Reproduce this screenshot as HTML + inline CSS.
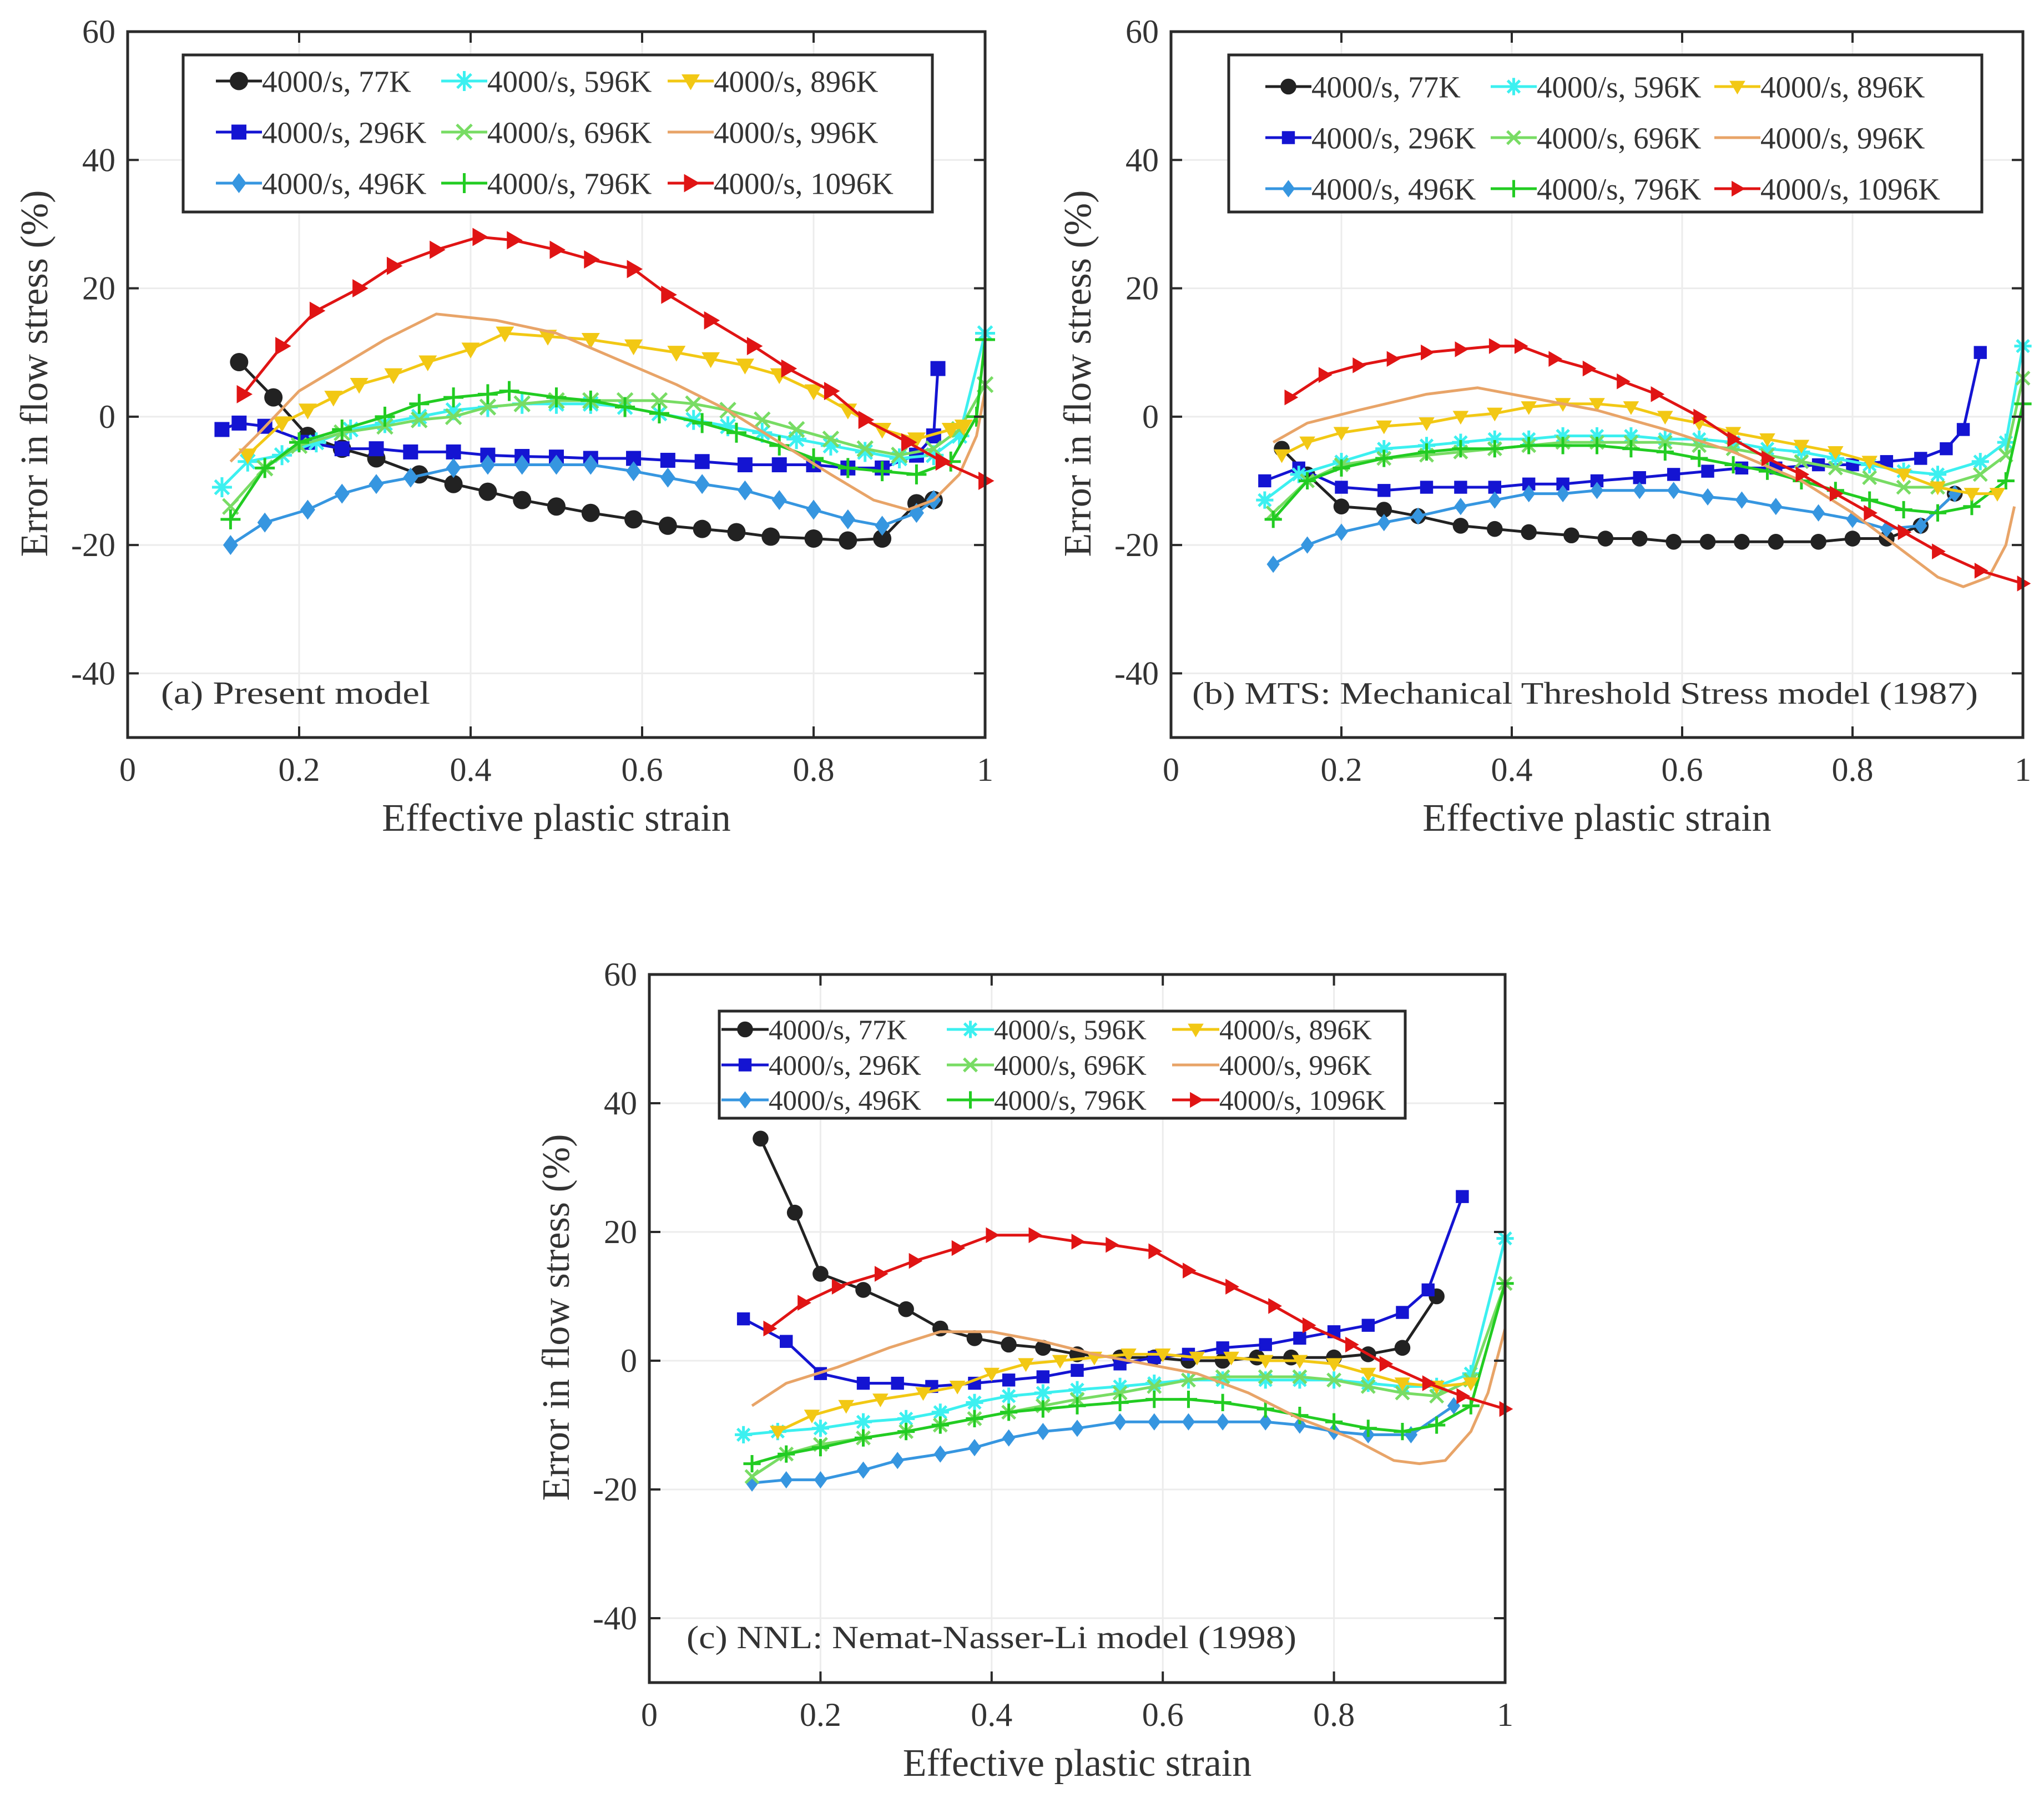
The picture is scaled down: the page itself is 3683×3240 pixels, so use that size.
<!DOCTYPE html>
<html><head><meta charset="utf-8">
<style>
html,body{margin:0;padding:0;background:#fff;}
svg{display:block;}
text{font-family:"Liberation Serif",serif;fill:#333;}
</style></head>
<body>
<svg id="fig" width="3683" height="3240" viewBox="0 0 3683 3240" xmlns="http://www.w3.org/2000/svg">
<rect width="3683" height="3240" fill="#fff"/>
</svg>
<script>
// ---- shared tick data ----
const xTicks = [0, 0.2, 0.4, 0.6, 0.8, 1];
const xTickLabels = ["0", "0.2", "0.4", "0.6", "0.8", "1"];
const yTicks = [-40, -20, 0, 20, 40, 60];
const yTickLabels = ["-40", "-20", "0", "20", "40", "60"];
const seriesNames = ["4000/s, 77K","4000/s, 296K","4000/s, 496K","4000/s, 596K","4000/s, 696K","4000/s, 796K","4000/s, 896K","4000/s, 996K","4000/s, 1096K"];

// ---- panel (a) data ----
const a77 = [[0.13,8.5],[0.17,3],[0.21,-3],[0.25,-5],[0.29,-6.5],[0.34,-9],[0.38,-10.5],[0.42,-11.7],[0.46,-13],[0.5,-14],[0.54,-15],[0.59,-16],[0.63,-17],[0.67,-17.5],[0.71,-18],[0.75,-18.7],[0.8,-19],[0.84,-19.3],[0.88,-19],[0.92,-13.5],[0.94,-13]];
const a296 = [[0.11,-2],[0.13,-1],[0.16,-1.5],[0.21,-4],[0.25,-5],[0.29,-5],[0.33,-5.5],[0.38,-5.5],[0.42,-6],[0.46,-6.2],[0.5,-6.3],[0.54,-6.5],[0.59,-6.5],[0.63,-6.8],[0.67,-7],[0.72,-7.5],[0.76,-7.5],[0.8,-7.5],[0.84,-8],[0.88,-8],[0.92,-6],[0.94,-3],[0.945,7.5]];
const a496 = [[0.12,-20],[0.16,-16.5],[0.21,-14.5],[0.25,-12],[0.29,-10.5],[0.33,-9.5],[0.38,-8],[0.42,-7.5],[0.46,-7.5],[0.5,-7.5],[0.54,-7.5],[0.59,-8.5],[0.63,-9.5],[0.67,-10.5],[0.72,-11.5],[0.76,-13],[0.8,-14.5],[0.84,-16],[0.88,-17],[0.92,-15],[0.94,-13]];
const a596 = [[0.11,-11],[0.14,-7],[0.18,-6],[0.22,-4],[0.26,-2],[0.3,-1],[0.34,0],[0.38,1],[0.42,1.5],[0.46,2],[0.5,2],[0.54,2],[0.58,1.5],[0.62,0.5],[0.66,-0.5],[0.7,-1.5],[0.74,-2.5],[0.78,-3.5],[0.82,-4.5],[0.86,-5.5],[0.9,-6.5],[0.94,-6],[0.97,-3],[1.0,13]];
const a696 = [[0.12,-14],[0.16,-8],[0.2,-4.5],[0.25,-2.5],[0.3,-1.5],[0.34,-0.5],[0.38,0],[0.42,1.5],[0.46,2],[0.5,2.5],[0.54,2.5],[0.58,2.5],[0.62,2.5],[0.66,2],[0.7,1],[0.74,-0.5],[0.78,-2],[0.82,-3.5],[0.86,-5],[0.9,-6],[0.94,-5],[0.97,-2],[1.0,5]];
const a796 = [[0.12,-16],[0.16,-8],[0.2,-4],[0.25,-2],[0.3,0],[0.34,2],[0.38,3],[0.42,3.5],[0.445,4],[0.5,3],[0.54,2.5],[0.58,1.5],[0.62,0.5],[0.67,-1],[0.71,-2.5],[0.76,-4.5],[0.8,-6.5],[0.84,-8],[0.88,-8.5],[0.92,-9],[0.96,-7],[0.99,0],[1.0,12]];
const a896 = [[0.14,-6],[0.18,-1],[0.21,1],[0.24,3],[0.27,5],[0.31,6.5],[0.35,8.5],[0.4,10.5],[0.44,13],[0.49,12.5],[0.54,12],[0.59,11],[0.64,10],[0.68,9],[0.72,8],[0.76,6.5],[0.8,4],[0.84,1],[0.88,-2],[0.92,-3.5],[0.96,-2],[0.975,-1.5]];
const a996 = [[0.12,-7],[0.15,-3],[0.2,4],[0.25,8],[0.3,12],[0.36,16],[0.43,15],[0.5,13],[0.57,9],[0.64,5],[0.7,1],[0.76,-4],[0.82,-9],[0.87,-13],[0.91,-14.5],[0.94,-13],[0.97,-9],[0.99,-3],[1.0,4]];
const a1096 = [[0.135,3.5],[0.18,11],[0.22,16.5],[0.27,20],[0.31,23.5],[0.36,26],[0.41,28],[0.45,27.5],[0.5,26],[0.54,24.5],[0.59,23],[0.63,19],[0.68,15],[0.73,11],[0.77,7.5],[0.82,4],[0.86,-0.5],[0.91,-4],[0.95,-7],[1.0,-10]];

// ---- panel (b) data ----
const b77 = [[0.13,-5],[0.16,-9],[0.2,-14],[0.25,-14.5],[0.29,-15.5],[0.34,-17],[0.38,-17.5],[0.42,-18],[0.47,-18.5],[0.51,-19],[0.55,-19],[0.59,-19.5],[0.63,-19.5],[0.67,-19.5],[0.71,-19.5],[0.76,-19.5],[0.8,-19],[0.84,-19],[0.88,-17],[0.92,-12]];
const b296 = [[0.11,-10],[0.15,-8],[0.2,-11],[0.25,-11.5],[0.3,-11],[0.34,-11],[0.38,-11],[0.42,-10.5],[0.46,-10.5],[0.5,-10],[0.55,-9.5],[0.59,-9],[0.63,-8.5],[0.67,-8],[0.71,-8],[0.76,-7.5],[0.8,-7.5],[0.84,-7],[0.88,-6.5],[0.91,-5],[0.93,-2],[0.95,10]];
const b496 = [[0.12,-23],[0.16,-20],[0.2,-18],[0.25,-16.5],[0.29,-15.5],[0.34,-14],[0.38,-13],[0.42,-12],[0.46,-12],[0.5,-11.5],[0.55,-11.5],[0.59,-11.5],[0.63,-12.5],[0.67,-13],[0.71,-14],[0.76,-15],[0.8,-16],[0.84,-17.5],[0.88,-17],[0.92,-12]];
const b596 = [[0.11,-13],[0.15,-9],[0.2,-7],[0.25,-5],[0.3,-4.5],[0.34,-4],[0.38,-3.5],[0.42,-3.5],[0.46,-3],[0.5,-3],[0.54,-3],[0.58,-3.5],[0.62,-3.5],[0.66,-4],[0.7,-5],[0.74,-5.5],[0.78,-6.5],[0.82,-7.5],[0.86,-8.5],[0.9,-9],[0.95,-7],[0.98,-4],[1.0,11]];
const b696 = [[0.12,-15],[0.16,-10],[0.2,-7.5],[0.25,-6.5],[0.3,-6],[0.34,-5.5],[0.38,-5],[0.42,-4.5],[0.46,-4],[0.5,-4],[0.54,-4],[0.58,-4],[0.62,-4.5],[0.66,-5],[0.7,-6],[0.74,-7],[0.78,-8],[0.82,-9.5],[0.86,-11],[0.9,-11],[0.95,-9],[0.98,-6],[1.0,6]];
const b796 = [[0.12,-16],[0.16,-10],[0.2,-8],[0.25,-6.5],[0.3,-5.5],[0.34,-5],[0.38,-5],[0.42,-4.5],[0.46,-4.5],[0.5,-4.5],[0.54,-5],[0.58,-5.5],[0.62,-6.5],[0.66,-7.5],[0.7,-8.5],[0.74,-10],[0.78,-11.5],[0.82,-13],[0.86,-14.5],[0.9,-15],[0.94,-14],[0.98,-10],[1.0,2]];
const b896 = [[0.13,-6],[0.16,-4],[0.2,-2.5],[0.25,-1.5],[0.3,-1],[0.34,0],[0.38,0.5],[0.42,1.5],[0.46,2],[0.5,2],[0.54,1.5],[0.58,0],[0.62,-1],[0.66,-2.5],[0.7,-3.5],[0.74,-4.5],[0.78,-5.5],[0.82,-7],[0.86,-9],[0.9,-11],[0.94,-12],[0.97,-12]];
const b996 = [[0.12,-4],[0.16,-1],[0.22,1],[0.3,3.5],[0.36,4.5],[0.42,3],[0.5,1],[0.58,-2],[0.66,-5.5],[0.74,-10],[0.8,-15],[0.86,-21],[0.9,-25],[0.93,-26.5],[0.96,-25],[0.98,-20],[0.99,-14]];
const b1096 = [[0.14,3],[0.18,6.5],[0.22,8],[0.26,9],[0.3,10],[0.34,10.5],[0.38,11],[0.41,11],[0.45,9],[0.49,7.5],[0.53,5.5],[0.57,3.5],[0.62,0],[0.66,-3.5],[0.7,-6.5],[0.74,-9],[0.78,-12],[0.82,-15],[0.86,-18],[0.9,-21],[0.95,-24],[1.0,-26]];

// ---- panel (c) data ----
const c77 = [[0.13,34.5],[0.17,23],[0.2,13.5],[0.25,11],[0.3,8],[0.34,5],[0.38,3.5],[0.42,2.5],[0.46,2],[0.5,1],[0.55,0.5],[0.59,0.5],[0.63,0],[0.67,0],[0.71,0.5],[0.75,0.5],[0.8,0.5],[0.84,1],[0.88,2],[0.92,10]];
const c296 = [[0.11,6.5],[0.16,3],[0.2,-2],[0.25,-3.5],[0.29,-3.5],[0.33,-4],[0.38,-3.5],[0.42,-3],[0.46,-2.5],[0.5,-1.5],[0.55,-0.5],[0.59,0.5],[0.63,1],[0.67,2],[0.72,2.5],[0.76,3.5],[0.8,4.5],[0.84,5.5],[0.88,7.5],[0.91,11],[0.95,25.5]];
const c496 = [[0.12,-19],[0.16,-18.5],[0.2,-18.5],[0.25,-17],[0.29,-15.5],[0.34,-14.5],[0.38,-13.5],[0.42,-12],[0.46,-11],[0.5,-10.5],[0.55,-9.5],[0.59,-9.5],[0.63,-9.5],[0.67,-9.5],[0.72,-9.5],[0.76,-10],[0.8,-11],[0.84,-11.5],[0.89,-11.5],[0.94,-7]];
const c596 = [[0.11,-11.5],[0.15,-11],[0.2,-10.5],[0.25,-9.5],[0.3,-9],[0.34,-8],[0.38,-6.5],[0.42,-5.5],[0.46,-5],[0.5,-4.5],[0.55,-4],[0.59,-3.5],[0.63,-3],[0.67,-3],[0.72,-3],[0.76,-3],[0.8,-3],[0.84,-3.5],[0.88,-4],[0.92,-4],[0.96,-2],[1.0,19]];
const c696 = [[0.12,-18],[0.16,-14.5],[0.2,-13],[0.25,-12],[0.3,-11],[0.34,-10],[0.38,-9],[0.42,-8],[0.46,-7],[0.5,-6],[0.55,-5],[0.59,-4],[0.63,-3],[0.67,-2.5],[0.72,-2.5],[0.76,-2.5],[0.8,-3],[0.84,-4],[0.88,-5],[0.92,-5.5],[0.96,-3],[1.0,12]];
const c796 = [[0.12,-16],[0.16,-14.5],[0.2,-13.5],[0.25,-12],[0.3,-11],[0.34,-10],[0.38,-9],[0.42,-8],[0.46,-7.5],[0.5,-7],[0.55,-6.5],[0.59,-6],[0.63,-6],[0.67,-6.5],[0.72,-7.5],[0.76,-8.5],[0.8,-9.5],[0.84,-10.5],[0.88,-11],[0.92,-10],[0.96,-7],[1.0,12]];
const c896 = [[0.15,-11],[0.19,-8.5],[0.23,-7],[0.27,-6],[0.32,-5],[0.36,-4],[0.4,-2],[0.44,-0.5],[0.48,0],[0.52,0.5],[0.56,1],[0.6,1],[0.64,0.5],[0.68,0.5],[0.72,0],[0.76,0],[0.8,-0.5],[0.84,-2],[0.88,-3.5],[0.92,-4],[0.96,-3.5]];
const c996 = [[0.12,-7],[0.16,-3.5],[0.22,-1],[0.28,2],[0.34,4.5],[0.4,4.5],[0.46,3],[0.52,1],[0.58,-0.5],[0.64,-2],[0.7,-5],[0.76,-9],[0.82,-12],[0.87,-15.5],[0.9,-16],[0.93,-15.5],[0.96,-11],[0.98,-5],[1.0,5]];
const c1096 = [[0.14,5],[0.18,9],[0.22,11.5],[0.27,13.5],[0.31,15.5],[0.36,17.5],[0.4,19.5],[0.45,19.5],[0.5,18.5],[0.54,18],[0.59,17],[0.63,14],[0.68,11.5],[0.73,8.5],[0.77,5.5],[0.82,2.5],[0.86,-0.5],[0.91,-3.5],[0.95,-5.5],[1.0,-7.5]];

const NS = "http://www.w3.org/2000/svg";
const svg = document.getElementById('fig');
const styles = [
  {c:"#222222", m:"circle"}, {c:"#1414d2", m:"square"}, {c:"#3696e0", m:"diamond"},
  {c:"#3cf0f0", m:"star"}, {c:"#78dc64", m:"x"}, {c:"#22cc22", m:"plus"},
  {c:"#f2c814", m:"tri"}, {c:"#e8a468", m:"none"}, {c:"#e01414", m:"right"}
];
const keys = ["t77","t296","t496","t596","t696","t796","t896","t996","t1096"];

function mk(tag, attrs, parent){
  const e = document.createElementNS(NS, tag);
  for (const k in attrs) e.setAttribute(k, attrs[k]);
  parent.appendChild(e);
  return e;
}
function marker(g, type, x, y, col, s){
  let e;
  if (type === "circle") e = mk("circle",{cx:x,cy:y,r:s*0.55,fill:col},g);
  else if (type === "square") e = mk("rect",{x:x-s*0.45,y:y-s*0.45,width:s*0.9,height:s*0.9,fill:col},g);
  else if (type === "diamond") e = mk("polygon",{points:`${x},${y-s*0.6} ${x+s*0.45},${y} ${x},${y+s*0.6} ${x-s*0.45},${y}`,fill:col},g);
  else if (type === "tri") e = mk("polygon",{points:`${x-s*0.55},${y-s*0.4} ${x+s*0.55},${y-s*0.4} ${x},${y+s*0.55}`,fill:col},g);
  else if (type === "right") e = mk("polygon",{points:`${x-s*0.4},${y-s*0.55} ${x+s*0.55},${y} ${x-s*0.4},${y+s*0.55}`,fill:col},g);
  else if (type === "plus") e = mk("path",{d:`M${x-s*0.6},${y}H${x+s*0.6}M${x},${y-s*0.6}V${y+s*0.6}`,stroke:col,"stroke-width":5},g);
  else if (type === "x") e = mk("path",{d:`M${x-s*0.45},${y-s*0.45}L${x+s*0.45},${y+s*0.45}M${x-s*0.45},${y+s*0.45}L${x+s*0.45},${y-s*0.45}`,stroke:col,"stroke-width":5},g);
  else if (type === "star") e = mk("path",{d:`M${x-s*0.6},${y}H${x+s*0.6}M${x},${y-s*0.6}V${y+s*0.6}M${x-s*0.42},${y-s*0.42}L${x+s*0.42},${y+s*0.42}M${x-s*0.42},${y+s*0.42}L${x+s*0.42},${y-s*0.42}`,stroke:col,"stroke-width":5},g);
  if (e) {
    
    
  }
}

function panel(p){
  const g = mk("g",{},svg);
  
  
  const X = v => p.L + (v - 0) / (1 - 0) * (p.R - p.L);
  const Y = v => p.B - (v - (-50)) / (60 - (-50)) * (p.B - p.T);
  xTicks.forEach(t => {
    const gl = mk("line",{x1:X(t),x2:X(t),y1:p.T,y2:p.B,stroke:"#ececec","stroke-width":3},g);
    
    
  });
  yTicks.forEach(t => {
    const gl = mk("line",{x1:p.L,x2:p.R,y1:Y(t),y2:Y(t),stroke:"#ececec","stroke-width":3},g);
    
    
  });
  const sg = mk("g",{},g);
  
  
  p.series.forEach((d, i) => {
    const st = styles[i];
    const ln = mk("polyline",{points:d.map(q => X(q[0]) + "," + Y(q[1])).join(" "),fill:"none",stroke:st.c,"stroke-width":5,"stroke-linejoin":"round"},sg);
    
    
    if (st.m !== "none") d.forEach(q => marker(sg, st.m, X(q[0]), Y(q[1]), st.c, p.ms));
  });
  const box = mk("rect",{x:p.L,y:p.T,width:p.R-p.L,height:p.B-p.T,fill:"none",stroke:"#2a2a2a","stroke-width":5},g);
  
  
  xTicks.forEach((t, i) => {
    const tk = mk("path",{d:`M${X(t)},${p.B}v-20M${X(t)},${p.T}v20`,stroke:"#2a2a2a","stroke-width":4},g);
    
    
    const tl = mk("text",{x:X(t),y:p.B+78,"font-size":60,"text-anchor":"middle"},g);
    tl.textContent = xTickLabels[i];
    
    
  });
  yTicks.forEach((t, i) => {
    const tk = mk("path",{d:`M${p.L},${Y(t)}h20M${p.R},${Y(t)}h-20`,stroke:"#2a2a2a","stroke-width":4},g);
    
    
    const tl = mk("text",{x:p.L-22,y:Y(t)+20,"font-size":60,"text-anchor":"end"},g);
    tl.textContent = yTickLabels[i];
    
    
  });
  const xt = mk("text",{x:(p.L+p.R)/2,y:p.B+168,"font-size":70,"text-anchor":"middle"},g);
  xt.textContent = "Effective plastic strain";
  
  
  const yx = p.L - 145, yy = (p.T + p.B) / 2 - 20;
  const yt = mk("text",{x:yx,y:yy,"font-size":70,"text-anchor":"middle",transform:`rotate(-90 ${yx} ${yy})`},g);
  yt.textContent = "Error in flow stress (%)";
  
  
  const pl = mk("text",{x:p.lab[0],y:p.lab[1],"font-size":p.labFs,"textLength":p.lab[2],"lengthAdjust":"spacingAndGlyphs"},g);
  pl.textContent = p.label;
  
  
  const lg = mk("g",{},g);
  
  
  const lb = mk("rect",{x:p.leg.x,y:p.leg.y,width:p.leg.w,height:p.leg.h,fill:"#fff",stroke:"#2a2a2a","stroke-width":5},lg);
  
  
  for (let i = 0; i < 9; i++) {
    const col = Math.floor(i / 3), row = i % 3;
    const lx = p.leg.cols[col], ly = p.leg.rows[row];
    const st = styles[i];
    const eg = mk("g",{},lg);
    
    
    mk("line",{x1:lx,x2:lx+p.leg.sw,y1:ly,y2:ly,stroke:st.c,"stroke-width":5},eg);
    if (st.m !== "none") marker(eg, st.m, lx + p.leg.sw/2, ly, st.c, p.ms);
    const tx = mk("text",{x:lx+p.leg.sw,y:ly+p.leg.fs*0.35,"font-size":p.leg.fs},eg);
    tx.textContent = seriesNames[i];
  }
}

panel({name:"panel-a", L:230, R:1775, T:57, B:1329, ms:30,
  series:[a77,a296,a496,a596,a696,a796,a896,a996,a1096],
  label:"(a) Present model", labFs:58, lab:[290,1268,485],
  leg:{x:330,y:99,w:1350,h:283,cols:[389,795,1203],rows:[146,238,330],sw:83,fs:55}});
panel({name:"panel-b", L:2110, R:3645, T:57, B:1329, ms:26,
  series:[b77,b296,b496,b596,b696,b796,b896,b996,b1096],
  label:"(b) MTS: Mechanical Threshold Stress model (1987)", labFs:56, lab:[2148,1268,1416],
  leg:{x:2214,y:99,w:1357,h:283,cols:[2280,2686,3089],rows:[156,248,340],sw:83,fs:55}});
panel({name:"panel-c", L:1170, R:2712, T:1756, B:3032, ms:26,
  series:[c77,c296,c496,c596,c696,c796,c896,c996,c1096],
  label:"(c) NNL: Nemat-Nasser-Li model (1998)", labFs:58, lab:[1237,2970,1099],
  leg:{x:1296,y:1822,w:1236,h:193,cols:[1300,1706,2112],rows:[1855,1919,1982],sw:85,fs:51}});
</script>
</body></html>
